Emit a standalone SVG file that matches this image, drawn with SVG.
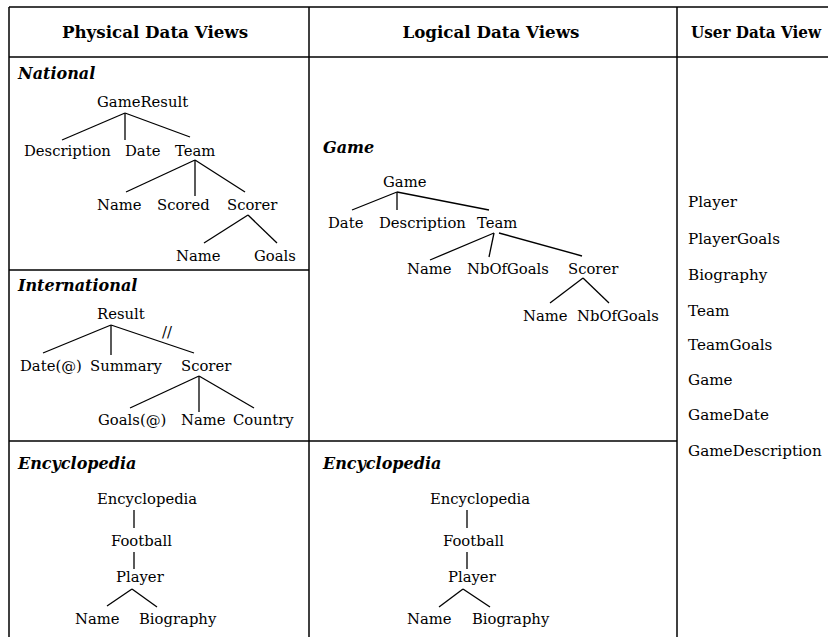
<svg xmlns="http://www.w3.org/2000/svg" width="828" height="637" viewBox="0 0 828 637">
<style>
.frame{stroke:#000;stroke-width:1.5;fill:none}
.edge{stroke:#000;stroke-width:1.3;fill:none}
text{font-family:"DejaVu Serif","Liberation Serif",serif;fill:#000}
.hd{font-size:16.7px;font-weight:bold}
.sec{font-size:16px;font-weight:bold;font-style:italic}
.n{font-size:14.8px}
.mid{text-anchor:middle}
.u{font-size:15.2px}
</style>
<rect width="828" height="637" fill="#fff"/>
<g id="table" class="frame">
<line x1="9" y1="7" x2="828" y2="7"/>
<line x1="9" y1="7" x2="9" y2="637"/>
<line x1="309" y1="7" x2="309" y2="637"/>
<line x1="677" y1="7" x2="677" y2="637"/>
<line x1="9" y1="57" x2="828" y2="57"/>
<line x1="9" y1="270" x2="309" y2="270"/>
<line x1="9" y1="441" x2="677" y2="441"/>
</g>
<g id="headers">
<text class="hd mid" x="155" y="38">Physical Data Views</text>
<text class="hd mid" x="491" y="38">Logical Data Views</text>
<text class="hd" x="691" y="38" textLength="130" lengthAdjust="spacingAndGlyphs">User Data View</text>
</g>
<g id="national">
<text class="sec" x="18" y="79">National</text>
<text class="n" x="97" y="107">GameResult</text>
<text class="n" x="24" y="156">Description</text>
<text class="n" x="125" y="156">Date</text>
<text class="n" x="175" y="156">Team</text>
<text class="n" x="97" y="210">Name</text>
<text class="n" x="157" y="210">Scored</text>
<text class="n" x="227" y="210">Scorer</text>
<text class="n" x="176" y="261">Name</text>
<text class="n" x="254" y="261">Goals</text>
</g>
<g id="international">
<text class="sec" x="18" y="291">International</text>
<text class="n" x="97" y="319">Result</text>
<text class="n" x="20" y="371">Date(@)</text>
<text class="n" x="90" y="371">Summary</text>
<text class="n" x="181" y="371">Scorer</text>
<text class="n" x="98" y="425">Goals(@)</text>
<text class="n" x="181" y="425">Name</text>
<text class="n" x="233" y="425">Country</text>
<text class="n" x="162" y="337" font-size="12">//</text>
</g>
<g id="encyclopedia-physical">
<text class="sec" x="18" y="469">Encyclopedia</text>
<text class="n" x="97" y="504">Encyclopedia</text>
<text class="n" x="111" y="546">Football</text>
<text class="n" x="116" y="582">Player</text>
<text class="n" x="75" y="624">Name</text>
<text class="n" x="139" y="624">Biography</text>
</g>
<g id="game">
<text class="sec" x="323" y="153">Game</text>
<text class="n" x="383" y="187">Game</text>
<text class="n" x="328" y="228">Date</text>
<text class="n" x="379" y="228">Description</text>
<text class="n" x="477" y="228">Team</text>
<text class="n" x="407" y="274">Name</text>
<text class="n" x="467" y="274">NbOfGoals</text>
<text class="n" x="568" y="274">Scorer</text>
<text class="n" x="523" y="321">Name</text>
<text class="n" x="577" y="321">NbOfGoals</text>
</g>
<g id="encyclopedia-logical">
<text class="sec" x="323" y="469">Encyclopedia</text>
<text class="n" x="430" y="504">Encyclopedia</text>
<text class="n" x="443" y="546">Football</text>
<text class="n" x="448" y="582">Player</text>
<text class="n" x="407" y="624">Name</text>
<text class="n" x="472" y="624">Biography</text>
</g>
<g id="user-view">
<text class="u" x="688" y="207">Player</text>
<text class="u" x="688" y="244">PlayerGoals</text>
<text class="u" x="688" y="280">Biography</text>
<text class="u" x="688" y="316">Team</text>
<text class="u" x="688" y="350">TeamGoals</text>
<text class="u" x="688" y="385">Game</text>
<text class="u" x="688" y="420">GameDate</text>
<text class="u" x="688" y="456">GameDescription</text>
</g>
<g id="connectors" class="edge">
<line x1="125" y1="113" x2="62" y2="140"/>
<line x1="125" y1="113" x2="125" y2="140"/>
<line x1="125" y1="113" x2="190" y2="137"/>
<line x1="195" y1="160" x2="126" y2="192"/>
<line x1="195" y1="160" x2="195" y2="196"/>
<line x1="195" y1="160" x2="245" y2="192"/>
<line x1="248" y1="215" x2="204" y2="243"/>
<line x1="248" y1="215" x2="277" y2="243"/>
<line x1="111" y1="325" x2="43" y2="353"/>
<line x1="111" y1="325" x2="111" y2="355"/>
<line x1="111" y1="325" x2="194" y2="353"/>
<line x1="199" y1="376" x2="130" y2="408"/>
<line x1="199" y1="376" x2="199" y2="412"/>
<line x1="199" y1="376" x2="254" y2="408"/>
<line x1="134" y1="510" x2="134" y2="528"/>
<line x1="134" y1="552" x2="134" y2="569"/>
<line x1="132" y1="589" x2="107" y2="606"/>
<line x1="132" y1="589" x2="157" y2="607"/>
<line x1="397" y1="192" x2="352" y2="210"/>
<line x1="397" y1="192" x2="397" y2="210"/>
<line x1="397" y1="192" x2="489" y2="210"/>
<line x1="494" y1="233" x2="430" y2="260"/>
<line x1="494" y1="233" x2="489" y2="257"/>
<line x1="499" y1="233" x2="582" y2="256"/>
<line x1="583" y1="278" x2="550" y2="303"/>
<line x1="583" y1="278" x2="609" y2="303"/>
<line x1="467" y1="510" x2="467" y2="528"/>
<line x1="467" y1="552" x2="467" y2="569"/>
<line x1="463" y1="589" x2="439" y2="607"/>
<line x1="463" y1="589" x2="490" y2="607"/>
</g>
</svg>
